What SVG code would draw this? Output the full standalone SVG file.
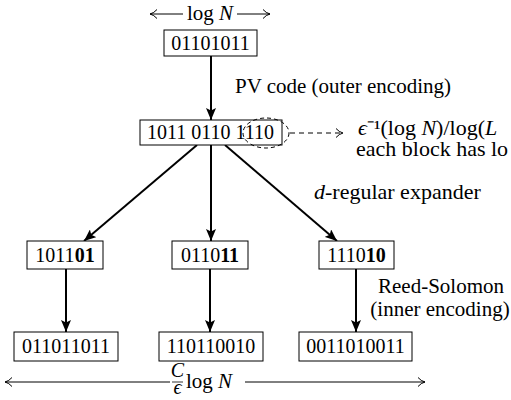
<svg xmlns="http://www.w3.org/2000/svg" width="511" height="400" viewBox="0 0 511 400">
<defs>
<marker id="ah" markerUnits="userSpaceOnUse" markerWidth="13" markerHeight="10" refX="12" refY="5" orient="auto">
<path d="M0,0 L12,5 L0,10 L2.5,5 z" fill="#000"/>
</marker>
<marker id="open" markerUnits="userSpaceOnUse" markerWidth="10" markerHeight="12" refX="8" refY="6" orient="auto">
<path d="M1,1.5 Q4,5 8,6 Q4,7 1,10.5" fill="none" stroke="#000" stroke-width="1"/>
</marker>
</defs>
<style>
text{font-family:"Liberation Serif","Times New Roman",serif;font-size:20px;fill:#000}
.lbl{font-size:21px}
.lbl2{font-size:22px}
.box{fill:#fff;stroke:#000;stroke-width:1}
.c{stroke:#000;stroke-width:2;fill:none}
.thin{stroke:#000;stroke-width:1;fill:none}
.it{font-style:italic}
.b{font-weight:bold}
.m{text-anchor:middle}
</style>
<g id="connectors">
<line class="c" x1="211" y1="56" x2="211" y2="120" marker-end="url(#ah)"/>
<line class="c" x1="197" y1="145" x2="84" y2="241" marker-end="url(#ah)"/>
<line class="c" x1="211" y1="145" x2="211" y2="241" marker-end="url(#ah)"/>
<line class="c" x1="225" y1="145" x2="337" y2="241" marker-end="url(#ah)"/>
<line class="c" x1="66" y1="269" x2="66" y2="332" marker-end="url(#ah)"/>
<line class="c" x1="210" y1="269" x2="210" y2="332" marker-end="url(#ah)"/>
<line class="c" x1="356" y1="269" x2="356" y2="332" marker-end="url(#ah)"/>
<line class="thin" x1="290" y1="133" x2="343" y2="133" stroke-dasharray="5,4" marker-end="url(#open)"/>
<line class="thin" x1="183" y1="14" x2="150" y2="14" marker-end="url(#open)"/>
<line class="thin" x1="237" y1="14" x2="270" y2="14" marker-end="url(#open)"/>
<line class="thin" x1="170" y1="382" x2="5" y2="382" marker-end="url(#open)"/>
<line class="thin" x1="245" y1="382" x2="425" y2="382" marker-end="url(#open)"/>
</g>
<g id="loglabel"><text class="m lbl" x="210" y="20">log <tspan class="it">N</tspan></text></g>
<g id="n-top"><rect class="box" x="164" y="30" width="93" height="26"/><text class="m" x="210.5" y="50">01101011</text></g>
<g id="lbl-pv"><text class="lbl" x="235" y="93">PV code (outer encoding)</text></g>
<g id="n-pv"><rect class="box" x="140" y="120" width="142" height="25"/><text x="147" y="139">1011 0110 1110</text>
<ellipse cx="266" cy="133" rx="23" ry="15" fill="none" stroke="#000" stroke-width="1" stroke-dasharray="4,3"/></g>
<g id="lbl-blocks"><text class="lbl2" x="358" y="135"><tspan class="it">ϵ</tspan>⁻¹(log <tspan class="it">N</tspan>)/log(<tspan class="it">L</tspan></text>
<text class="lbl2" x="356" y="156">each block has lo</text></g>
<g id="lbl-exp"><text class="lbl2" x="314" y="199"><tspan class="it">d</tspan>-regular expander</text></g>
<g id="n-a"><rect class="box" x="27" y="241" width="76" height="28"/><text class="m" x="65" y="262">1011<tspan class="b">01</tspan></text></g>
<g id="n-b"><rect class="box" x="172" y="241" width="76" height="28"/><text class="m" x="210" y="262">0110<tspan class="b">11</tspan></text></g>
<g id="n-c"><rect class="box" x="319" y="241" width="75" height="28"/><text class="m" x="356.5" y="262">1110<tspan class="b">10</tspan></text></g>
<g id="lbl-rs"><text class="m lbl" x="441" y="293">Reed-Solomon</text><text class="m lbl" x="440" y="316">(inner encoding)</text></g>
<g id="n-d"><rect class="box" x="14" y="332" width="104" height="29"/><text class="m" x="66" y="353">011011011</text></g>
<g id="n-e"><rect class="box" x="159" y="332" width="104" height="29"/><text class="m" x="211" y="353">110110010</text></g>
<g id="n-f"><rect class="box" x="299" y="332" width="113" height="29"/><text class="m" x="355.5" y="353">0011010011</text></g>
<g id="lbl-bottom">
<text class="m it" x="177.5" y="377" font-size="11">C</text>
<line x1="172" y1="382" x2="183" y2="382" stroke="#000" stroke-width="0.8"/>
<text class="m it" x="177.5" y="394" font-size="11">ϵ</text>
<text class="lbl" x="186" y="388">log <tspan class="it">N</tspan></text>
</g>
</svg>
